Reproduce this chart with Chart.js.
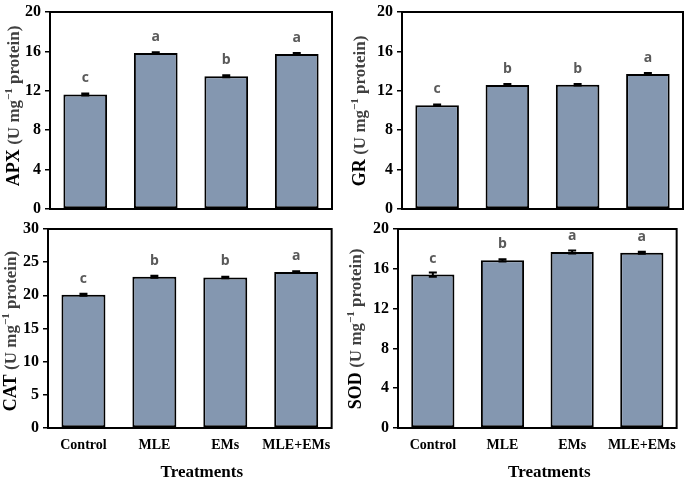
<!DOCTYPE html>
<html>
<head>
<meta charset="utf-8">
<script src="https://cdn.jsdelivr.net/npm/chart.js@4.4.1/dist/chart.umd.min.js"></script>
<style>
  html, body { margin: 0; padding: 0; background: #fff; }
  body { width: 685px; height: 483px; position: relative; overflow: hidden; }
  canvas { position: absolute; }
</style>
</head>
<body>
<canvas id="apx" width="340" height="225" style="left:0;top:0"></canvas>
<canvas id="gr" width="345" height="225" style="left:340px;top:0"></canvas>
<canvas id="cat" width="340" height="268" style="left:0;top:215px"></canvas>
<canvas id="sod" width="345" height="268" style="left:340px;top:215px"></canvas>
<script>
// ---- data ----
const categories = ["Control", "MLE", "EMs", "MLE+EMs"];
const xTitle = "Treatments";

const apxValues = [11.63, 15.83, 13.47, 15.73];
const apxErrors = [0.1, 0.08, 0.1, 0.1];
const apxLetters = ["c", "a", "b", "a"];
const apxTicks = [0, 4, 8, 12, 16, 20];

const grValues = [10.53, 12.6, 12.62, 13.7];
const grErrors = [0.08, 0.1, 0.08, 0.1];
const grLetters = ["c", "b", "b", "a"];
const grTicks = [0, 4, 8, 12, 16, 20];

const catValues = [20.08, 22.8, 22.7, 23.5];
const catErrors = [0.15, 0.15, 0.12, 0.12];
const catLetters = ["c", "b", "b", "a"];
const catTicks = [0, 5, 10, 15, 20, 25, 30];

const sodValues = [15.42, 16.85, 17.68, 17.62];
const sodErrors = [0.22, 0.12, 0.15, 0.1];
const sodLetters = ["c", "b", "a", "a"];
const sodTicks = [0, 4, 8, 12, 16, 20];

// ---- styling ----
const SERIF = "'Liberation Serif', 'Times New Roman', serif";
const BAR_COLOR = "#8497B0";

const annotPlugin = {
  id: 'annot',
  afterDatasetsDraw(chart) {
    const c = chart.ctx;
    const o = chart.options.plugins.annot;
    const ys = chart.scales.y;
    const meta = chart.getDatasetMeta(0);
    const area = chart.chartArea;
    // error bars + letters
    meta.data.forEach((bar, i) => {
      const v = o.values[i], e = o.errors[i];
      const x = bar.x;
      const yTop = ys.getPixelForValue(v + e);
      const yBot = ys.getPixelForValue(v - e);
      c.save();
      c.strokeStyle = '#000';
      c.lineWidth = 2;
      c.beginPath();
      c.moveTo(x, yTop); c.lineTo(x, yBot);
      c.moveTo(x - 4, yTop); c.lineTo(x + 4, yTop);
      c.moveTo(x - 4, yBot); c.lineTo(x + 4, yBot);
      c.stroke();
      c.fillStyle = '#595959';
      c.font = "bold 14px 'Open Sans', sans-serif";
      c.textAlign = 'center';
      c.textBaseline = 'alphabetic';
      c.fillText(o.letters[i], x, ys.getPixelForValue(v) - 12);
      c.restore();
    });
    // plot box
    c.save();
    c.strokeStyle = '#000';
    c.lineWidth = 2;
    c.strokeRect(area.left, area.top, area.right - area.left, area.bottom - area.top);
    c.restore();
    // y title (rotated, rich text)
    c.save();
    c.translate(o.titleX, o.titleY);
    c.rotate(-Math.PI / 2);
    c.textBaseline = 'alphabetic';
    c.textAlign = 'left';
    const f1 = "bold 18px " + SERIF, f2 = "bold 17px " + SERIF, f3 = "bold 11px " + SERIF;
    const parts = [
      {t: o.name + " ", f: f1, col: '#000', dy: 0},
      {t: "(U mg", f: f2, col: '#404040', dy: 0},
      {t: "\u22121", f: f3, col: '#404040', dy: -7},
      {t: " protein)", f: f2, col: '#404040', dy: 0}
    ];
    let total = 0;
    parts.forEach(p => { c.font = p.f; p.w = c.measureText(p.t).width; total += p.w; });
    let px = -total / 2;
    parts.forEach(p => {
      c.font = p.f; c.fillStyle = p.col;
      c.fillText(p.t, px, 6 + p.dy);
      px += p.w;
    });
    c.restore();
    // x title
    if (o.xTitle) {
      c.save();
      c.font = "bold 17px " + SERIF;
      c.fillStyle = '#000';
      c.textAlign = 'center';
      c.textBaseline = 'middle';
      c.fillText(o.xTitle, (area.left + area.right) / 2 + 12, o.xTitleY);
      c.restore();
    }
  }
};

function makePanel(id, cfg) {
  const ticksList = cfg.ticks;
  return new Chart(document.getElementById(id), {
    type: 'bar',
    data: {
      labels: categories,
      datasets: [{
        data: cfg.values,
        backgroundColor: BAR_COLOR,
        borderColor: '#000',
        borderWidth: 2,
        borderSkipped: false,
        barPercentage: 0.62,
        categoryPercentage: 1
      }]
    },
    options: {
      responsive: false,
      animation: false,
      devicePixelRatio: 1,
      layout: { padding: { top: cfg.padTop, right: cfg.padRight, left: 0, bottom: 0 } },
      plugins: {
        legend: { display: false },
        tooltip: { enabled: false },
        annot: {
          values: cfg.values, errors: cfg.errors, letters: cfg.letters,
          name: cfg.name, titleX: cfg.titleX, titleY: cfg.titleY,
          xTitle: cfg.showX ? xTitle : null, xTitleY: cfg.xTitleY
        }
      },
      scales: {
        y: {
          min: ticksList[0],
          max: ticksList[ticksList.length - 1],
          afterBuildTicks: s => { s.ticks = ticksList.map(v => ({ value: v })); },
          afterFit: s => { s.width = cfg.yW; },
          ticks: { color: '#000', padding: 4, font: { family: SERIF, size: 16, weight: 'bold', lineHeight: 1 } },
          grid: { drawOnChartArea: false, drawTicks: true, tickLength: 5, color: '#000', lineWidth: 1.5 },
          border: { display: false }
        },
        x: {
          afterFit: s => { s.height = cfg.xH; },
          ticks: {
            display: cfg.showX, color: '#000', padding: 9, maxRotation: 0, autoSkip: false,
            font: { family: SERIF, size: 14, weight: 'bold' }
          },
          grid: { display: false, drawTicks: false },
          border: { display: false }
        }
      }
    },
    plugins: [annotPlugin]
  });
}

makePanel('apx', { values: apxValues, errors: apxErrors, letters: apxLetters, ticks: apxTicks, name: 'APX',
  yW: 50, padTop: 9, padRight: 8, xH: 16, titleX: 13, titleY: 106, showX: false });
makePanel('gr', { values: grValues, errors: grErrors, letters: grLetters, ticks: grTicks, name: 'GR',
  yW: 62, padTop: 9, padRight: 2, xH: 16, titleX: 19, titleY: 111, showX: false });
makePanel('cat', { values: catValues, errors: catErrors, letters: catLetters, ticks: catTicks, name: 'CAT',
  yW: 48, padTop: 14, padRight: 7, xH: 55, titleX: 10, titleY: 116, showX: true, xTitleY: 258 });
makePanel('sod', { values: sodValues, errors: sodErrors, letters: sodLetters, ticks: sodTicks, name: 'SOD',
  yW: 58, padTop: 14, padRight: 2, xH: 55, titleX: 15, titleY: 114, showX: true, xTitleY: 258 });
</script>
</body>
</html>
